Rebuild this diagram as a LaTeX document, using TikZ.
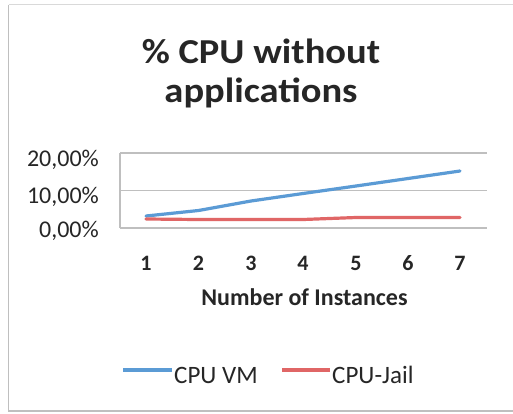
\documentclass[tikz,border=0pt]{standalone}
\usepackage{fontspec}
\setmainfont{Carlito}
\newfontfamily\titlefont{Carlito}[FakeStretch=1.1]
\definecolor{vmblue}{HTML}{5B9BD5}
\definecolor{jailred}{HTML}{E06666}
\definecolor{gridgray}{HTML}{BFBFBF}
\definecolor{txtcol}{HTML}{262626}
\tikzset{
  grid line/.style={draw=gridgray, line width=1.2pt},
  series/.style={line width=3.2pt, line cap=round, line join=round},
  ticklab/.style={font=\fontsize{24}{26}\selectfont, text=txtcol, anchor=base east, inner sep=0pt},
  catlab/.style={font=\fontsize{22}{24}\selectfont\bfseries, text=txtcol, anchor=base, inner sep=0pt},
  legendlab/.style={font=\fontsize{25}{28}\selectfont, text=txtcol, anchor=base west, inner sep=0pt},
  titlelab/.style={font=\titlefont\fontsize{35}{40}\selectfont\bfseries, text=txtcol, anchor=base, inner sep=0pt},
}
\begin{document}
\begin{tikzpicture}[x=1pt,y=-1pt]
\useasboundingbox (0,0) rectangle (513,413);
\fill[white] (0,0) rectangle (513,413);
% chart frame
\draw[draw=gray!30, line width=1.2pt] (520,4.5) -- (8.5,4.5);
\draw[draw=gray!50, line width=1.6pt] (8.5,4.5) -- (8.5,411) -- (520,411);
% title
\node[titlelab] (title1) at (261,63) {\% CPU without};
\node[titlelab] (title2) at (261,102) {applications};
% grid
\coordinate (g0l) at (120,228);   \coordinate (g0r) at (487,228);
\coordinate (g10l) at (120,190.5); \coordinate (g10r) at (487,190.5);
\coordinate (g20l) at (120,153);  \coordinate (g20r) at (487,153);
\draw[grid line] (g0l) -- (g0r);
\draw[grid line] (g10l) -- (g10r);
\draw[grid line] (g20l) -- (g20r);
\draw[grid line] (g20l) -- (g0l);
% y labels
\node[ticklab] (y20) at (99,166.5) {20,00\%};
\node[ticklab] (y10) at (99,203) {10,00\%};
\node[ticklab] (y0) at (99,237) {0,00\%};
% x labels
\foreach \i [count=\k] in {146,198.5,251,303,356,408,460}{
  \node[catlab] (x\k) at (\i,270) {\k};
}
\node[font=\fontsize{24}{26}\selectfont\bfseries, text=txtcol, anchor=base, inner sep=0pt] (xtitle) at (304.5,305) {Number of Instances};
% series
\draw[series, vmblue] (146,216) -- (198.5,210.5) -- (251,201) -- (303,193.5) -- (356,186) -- (408,178.5) -- (460,171);
\draw[series, jailred] (146,219) -- (198.5,219.5) -- (251,219.5) -- (303,219.5) -- (356,217.5) -- (408,217.5) -- (460,217.5);
% legend
\coordinate (lb1) at (123,370);
\coordinate (lb2) at (172,370);
\draw[series, vmblue, line cap=butt] (lb1) -- (lb2);
\node[legendlab] (lvm) at (174,383) {CPU VM};
\coordinate (lr1) at (282,370);
\coordinate (lr2) at (330,370);
\draw[series, jailred, line cap=butt] (lr1) -- (lr2);
\node[legendlab] (ljail) at (332,383) {CPU-Jail};
\end{tikzpicture}
\end{document}
